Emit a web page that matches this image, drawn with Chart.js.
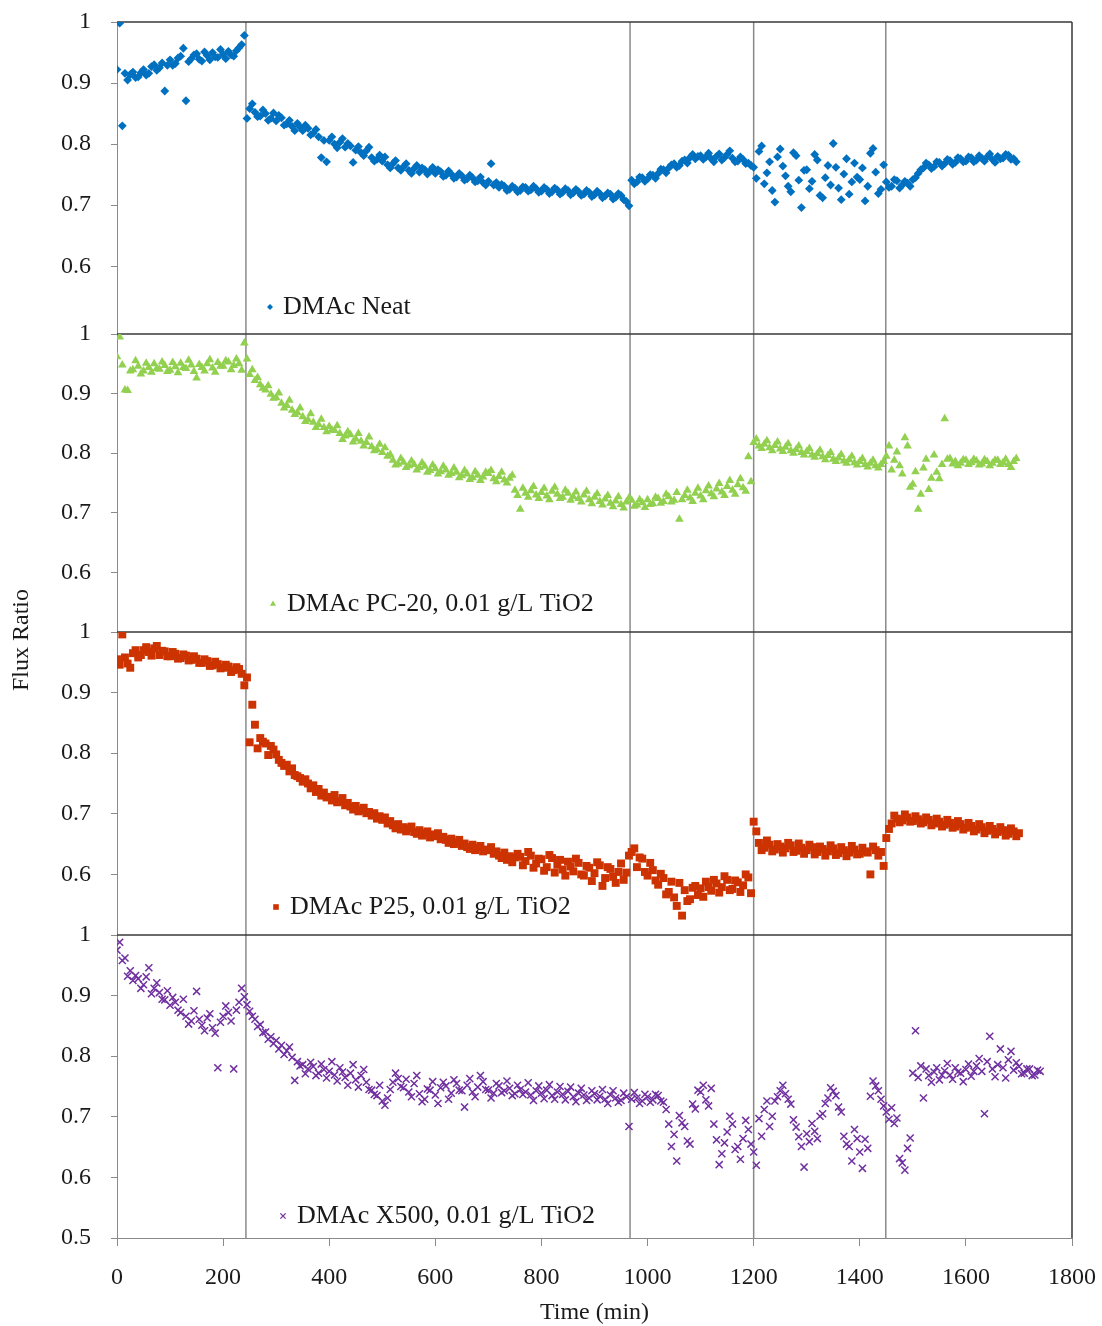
<!DOCTYPE html>
<html>
<head>
<meta charset="utf-8">
<title>Flux Ratio vs Time</title>
<script src="https://cdn.jsdelivr.net/npm/chart.js@4.4.1/dist/chart.umd.min.js"></script>
<style>
  html, body { margin: 0; padding: 0; background: #fff; }
  #fluxChart { display: block; }
</style>
</head>
<body>
<canvas id="fluxChart" width="1102" height="1326"></canvas>
<script>
// flux ratios, one reading every 5 min starting at t = 0
// (each row = 100 min)
const sampleStep = 5;

const neatFlux = [
  0.922, 0.998, 0.830, 0.916, 0.905, 0.914, 0.918, 0.909, 0.910, 0.917, 0.922, 0.913, 0.916, 0.927, 0.930, 0.921, 0.925, 0.933, 0.887, 0.929,
  0.938, 0.929, 0.932, 0.941, 0.944, 0.957, 0.871, 0.935, 0.940, 0.946, 0.948, 0.939, 0.936, 0.951, 0.945, 0.938, 0.950, 0.943, 0.942, 0.955,
  0.947, 0.940, 0.952, 0.946, 0.944, 0.953, 0.958, 0.963, 0.978, 0.842, 0.858, 0.866, 0.852, 0.845, 0.846, 0.856, 0.850, 0.839, 0.842, 0.851,
  0.838, 0.847, 0.843, 0.831, 0.833, 0.839, 0.829, 0.822, 0.834, 0.828, 0.822, 0.831, 0.826, 0.815, 0.818, 0.824, 0.812, 0.778, 0.806, 0.771,
  0.806, 0.812, 0.800, 0.794, 0.803, 0.809, 0.795, 0.801, 0.797, 0.770, 0.790, 0.796, 0.786, 0.781, 0.789, 0.795, 0.778, 0.772, 0.775, 0.782,
  0.772, 0.779, 0.766, 0.761, 0.768, 0.773, 0.761, 0.757, 0.763, 0.768, 0.757, 0.752, 0.760, 0.765, 0.754, 0.761, 0.758, 0.751, 0.756, 0.762,
  0.752, 0.758, 0.755, 0.747, 0.749, 0.756, 0.751, 0.744, 0.746, 0.752, 0.748, 0.741, 0.743, 0.749, 0.745, 0.738, 0.740, 0.746, 0.737, 0.733,
  0.739, 0.768, 0.733, 0.737, 0.729, 0.734, 0.731, 0.724, 0.726, 0.731, 0.728, 0.722, 0.724, 0.730, 0.729, 0.723, 0.725, 0.731, 0.727, 0.721,
  0.723, 0.729, 0.726, 0.719, 0.722, 0.728, 0.725, 0.718, 0.721, 0.727, 0.724, 0.717, 0.720, 0.726, 0.722, 0.716, 0.718, 0.724, 0.721, 0.714,
  0.717, 0.723, 0.719, 0.712, 0.715, 0.720, 0.718, 0.710, 0.713, 0.719, 0.716, 0.709, 0.706, 0.699, 0.741, 0.735, 0.738, 0.746, 0.745, 0.739,
  0.743, 0.750, 0.749, 0.744, 0.752, 0.759, 0.758, 0.753, 0.761, 0.766, 0.768, 0.762, 0.765, 0.772, 0.774, 0.769, 0.778, 0.783, 0.776, 0.780,
  0.781, 0.775, 0.779, 0.785, 0.776, 0.771, 0.780, 0.784, 0.774, 0.778, 0.783, 0.789, 0.777, 0.771, 0.772, 0.779, 0.775, 0.768, 0.769, 0.765,
  0.762, 0.744, 0.788, 0.797, 0.735, 0.753, 0.771, 0.724, 0.705, 0.779, 0.792, 0.764, 0.748, 0.731, 0.722, 0.786, 0.781, 0.741, 0.696, 0.757,
  0.758, 0.727, 0.739, 0.783, 0.774, 0.716, 0.712, 0.745, 0.765, 0.733, 0.801, 0.762, 0.728, 0.709, 0.751, 0.776, 0.718, 0.738, 0.769, 0.746,
  0.742, 0.761, 0.707, 0.731, 0.785, 0.793, 0.754, 0.719, 0.726, 0.766, 0.738, 0.729, 0.731, 0.742, 0.740, 0.728, 0.733, 0.739, 0.736, 0.731,
  0.742, 0.745, 0.752, 0.758, 0.761, 0.769, 0.766, 0.760, 0.763, 0.771, 0.770, 0.764, 0.768, 0.775, 0.773, 0.767, 0.770, 0.778, 0.776, 0.771,
  0.772, 0.779, 0.778, 0.771, 0.774, 0.781, 0.777, 0.772, 0.779, 0.784, 0.775, 0.770, 0.780, 0.776, 0.777, 0.783, 0.782, 0.775, 0.776, 0.771
];

const pc20Flux = [
  0.962, 0.995, 0.948, 0.906, 0.905, 0.938, 0.940, 0.955, 0.946, 0.933, 0.938, 0.951, 0.944, 0.936, 0.950, 0.942, 0.941, 0.953, 0.947, 0.937,
  0.939, 0.952, 0.945, 0.935, 0.951, 0.944, 0.942, 0.956, 0.948, 0.937, 0.926, 0.949, 0.944, 0.938, 0.950, 0.957, 0.943, 0.936, 0.952, 0.946,
  0.946, 0.955, 0.953, 0.940, 0.947, 0.958, 0.950, 0.939, 0.985, 0.958, 0.932, 0.940, 0.922, 0.927, 0.915, 0.909, 0.906, 0.913, 0.899, 0.892,
  0.893, 0.901, 0.884, 0.876, 0.880, 0.889, 0.872, 0.865, 0.868, 0.876, 0.861, 0.853, 0.856, 0.866, 0.852, 0.843, 0.848, 0.857, 0.843, 0.836,
  0.845, 0.839, 0.838, 0.846, 0.833, 0.823, 0.829, 0.836, 0.831, 0.819, 0.824, 0.833, 0.820, 0.812, 0.818, 0.827, 0.811, 0.804, 0.806, 0.815,
  0.801, 0.809, 0.795, 0.798, 0.788, 0.780, 0.782, 0.791, 0.785, 0.776, 0.779, 0.787, 0.781, 0.772, 0.776, 0.784, 0.778, 0.768, 0.771, 0.780,
  0.774, 0.765, 0.769, 0.778, 0.772, 0.763, 0.766, 0.775, 0.768, 0.759, 0.762, 0.771, 0.765, 0.756, 0.759, 0.769, 0.763, 0.754, 0.760, 0.768,
  0.766, 0.771, 0.757, 0.752, 0.761, 0.768, 0.755, 0.750, 0.758, 0.763, 0.738, 0.729, 0.706, 0.741, 0.733, 0.726, 0.737, 0.744, 0.730, 0.724,
  0.734, 0.741, 0.728, 0.722, 0.736, 0.743, 0.731, 0.724, 0.726, 0.738, 0.733, 0.721, 0.727, 0.735, 0.724, 0.718, 0.730, 0.736, 0.722, 0.715,
  0.726, 0.732, 0.719, 0.713, 0.723, 0.729, 0.716, 0.710, 0.720, 0.727, 0.714, 0.708, 0.718, 0.725, 0.721, 0.711, 0.713, 0.722, 0.717, 0.709,
  0.722, 0.714, 0.715, 0.726, 0.724, 0.716, 0.719, 0.731, 0.727, 0.718, 0.721, 0.734, 0.689, 0.722, 0.729, 0.738, 0.725, 0.719, 0.733, 0.741,
  0.728, 0.722, 0.737, 0.745, 0.732, 0.727, 0.740, 0.749, 0.735, 0.729, 0.744, 0.754, 0.738, 0.731, 0.747, 0.757, 0.742, 0.736, 0.794, 0.752,
  0.818, 0.824, 0.812, 0.808, 0.815, 0.821, 0.809, 0.804, 0.813, 0.819, 0.807, 0.803, 0.810, 0.816, 0.804, 0.800, 0.806, 0.812, 0.801, 0.797,
  0.803, 0.808, 0.797, 0.793, 0.799, 0.805, 0.794, 0.789, 0.796, 0.801, 0.790, 0.786, 0.792, 0.798, 0.787, 0.783, 0.789, 0.795, 0.784, 0.780,
  0.786, 0.791, 0.781, 0.777, 0.783, 0.788, 0.779, 0.775, 0.781, 0.786, 0.795, 0.812, 0.772, 0.788, 0.802, 0.779, 0.765, 0.826, 0.812, 0.743,
  0.748, 0.769, 0.706, 0.731, 0.775, 0.790, 0.739, 0.758, 0.797, 0.768, 0.757, 0.781, 0.858, 0.790, 0.791, 0.782, 0.786, 0.779, 0.783, 0.789,
  0.788, 0.781, 0.784, 0.790, 0.787, 0.780, 0.782, 0.789, 0.786, 0.779, 0.783, 0.788, 0.788, 0.781, 0.784, 0.790, 0.781, 0.776, 0.786, 0.791
];

const p25Flux = [
  0.955, 0.946, 0.996, 0.958, 0.948, 0.941, 0.965, 0.970, 0.958, 0.962, 0.970, 0.975, 0.967, 0.961, 0.973, 0.977, 0.962, 0.969, 0.968, 0.960,
  0.960, 0.967, 0.964, 0.956, 0.957, 0.963, 0.961, 0.953, 0.954, 0.960, 0.956, 0.949, 0.949, 0.955, 0.952, 0.944, 0.945, 0.951, 0.947, 0.940,
  0.941, 0.946, 0.943, 0.934, 0.937, 0.942, 0.939, 0.931, 0.912, 0.925, 0.818, 0.880, 0.847, 0.808, 0.825, 0.819, 0.816, 0.797, 0.812, 0.806,
  0.798, 0.789, 0.784, 0.779, 0.781, 0.770, 0.775, 0.764, 0.762, 0.759, 0.753, 0.757, 0.750, 0.742, 0.747, 0.736, 0.741, 0.730, 0.735, 0.727,
  0.728, 0.722, 0.731, 0.719, 0.721, 0.726, 0.714, 0.718, 0.712, 0.707, 0.713, 0.704, 0.706, 0.710, 0.701, 0.703, 0.697, 0.701, 0.692, 0.696,
  0.690, 0.694, 0.684, 0.688, 0.681, 0.676, 0.683, 0.674, 0.678, 0.671, 0.676, 0.679, 0.670, 0.667, 0.673, 0.664, 0.668, 0.671, 0.661, 0.666,
  0.663, 0.668, 0.658, 0.662, 0.657, 0.652, 0.659, 0.650, 0.653, 0.657, 0.647, 0.651, 0.645, 0.642, 0.649, 0.640, 0.644, 0.647, 0.638, 0.641,
  0.640, 0.645, 0.634, 0.638, 0.631, 0.627, 0.636, 0.624, 0.630, 0.620, 0.628, 0.634, 0.629, 0.615, 0.622, 0.637, 0.631, 0.611, 0.618, 0.626,
  0.625, 0.606, 0.612, 0.632, 0.627, 0.603, 0.616, 0.624, 0.608, 0.598, 0.621, 0.613, 0.605, 0.626, 0.619, 0.600, 0.598, 0.614, 0.611, 0.589,
  0.602, 0.620, 0.615, 0.581, 0.594, 0.612, 0.609, 0.596, 0.586, 0.604, 0.618, 0.591, 0.603, 0.631, 0.637, 0.643, 0.612, 0.628, 0.626, 0.604,
  0.598, 0.619, 0.607, 0.590, 0.583, 0.601, 0.594, 0.567, 0.571, 0.588, 0.562, 0.548, 0.586, 0.532, 0.574, 0.556, 0.559, 0.578, 0.581, 0.566,
  0.577, 0.563, 0.588, 0.579, 0.573, 0.591, 0.585, 0.570, 0.579, 0.597, 0.591, 0.574, 0.576, 0.590, 0.587, 0.571, 0.582, 0.600, 0.595, 0.569,
  0.687, 0.671, 0.652, 0.640, 0.644, 0.656, 0.649, 0.638, 0.641, 0.650, 0.646, 0.636, 0.643, 0.652, 0.648, 0.637, 0.639, 0.651, 0.644, 0.634,
  0.640, 0.649, 0.645, 0.633, 0.637, 0.646, 0.642, 0.631, 0.638, 0.648, 0.643, 0.632, 0.635, 0.645, 0.640, 0.630, 0.636, 0.647, 0.641, 0.633,
  0.634, 0.644, 0.638, 0.636, 0.600, 0.646, 0.640, 0.631, 0.637, 0.614, 0.660, 0.675, 0.684, 0.697, 0.692, 0.686, 0.689, 0.699, 0.694, 0.687,
  0.688, 0.696, 0.691, 0.684, 0.686, 0.694, 0.690, 0.681, 0.684, 0.692, 0.687, 0.679, 0.682, 0.690, 0.685, 0.677, 0.679, 0.688, 0.683, 0.674,
  0.677, 0.685, 0.680, 0.671, 0.674, 0.683, 0.678, 0.668, 0.672, 0.680, 0.675, 0.666, 0.670, 0.678, 0.673, 0.664, 0.667, 0.676, 0.671, 0.663,
  0.668
];

const x500Flux = [
  0.975, 0.988, 0.958, 0.962, 0.932, 0.941, 0.925, 0.933, 0.928, 0.912, 0.918, 0.931, 0.946, 0.903, 0.912, 0.921, 0.905, 0.894, 0.893, 0.908,
  0.884, 0.897, 0.889, 0.876, 0.872, 0.894, 0.866, 0.853, 0.858, 0.875, 0.907, 0.861, 0.851, 0.842, 0.863, 0.870, 0.847, 0.838, 0.781, 0.856,
  0.866, 0.883, 0.872, 0.858, 0.779, 0.876, 0.889, 0.912, 0.898, 0.885, 0.874, 0.866, 0.861, 0.849, 0.852, 0.839, 0.840, 0.828, 0.832, 0.821,
  0.826, 0.812, 0.818, 0.803, 0.809, 0.815, 0.798, 0.760, 0.791, 0.784, 0.786, 0.771, 0.779, 0.790, 0.783, 0.768, 0.772, 0.787, 0.778, 0.764,
  0.775, 0.791, 0.769, 0.759, 0.781, 0.774, 0.765, 0.752, 0.772, 0.786, 0.761, 0.749, 0.768, 0.778, 0.757, 0.745, 0.744, 0.737, 0.735, 0.752,
  0.726, 0.719, 0.731, 0.745, 0.757, 0.772, 0.763, 0.750, 0.748, 0.762, 0.741, 0.733, 0.755, 0.768, 0.738, 0.725, 0.729, 0.746, 0.744, 0.758,
  0.736, 0.722, 0.748, 0.757, 0.751, 0.729, 0.739, 0.761, 0.755, 0.744, 0.743, 0.716, 0.752, 0.763, 0.741, 0.733, 0.749, 0.768, 0.758, 0.745,
  0.744, 0.731, 0.739, 0.755, 0.751, 0.740, 0.743, 0.759, 0.747, 0.735, 0.738, 0.752, 0.745, 0.737, 0.741, 0.756, 0.736, 0.727, 0.743, 0.751,
  0.739, 0.730, 0.744, 0.753, 0.735, 0.729, 0.741, 0.750, 0.737, 0.728, 0.742, 0.749, 0.733, 0.725, 0.739, 0.747, 0.736, 0.727, 0.731, 0.743,
  0.738, 0.728, 0.734, 0.745, 0.729, 0.722, 0.736, 0.743, 0.731, 0.724, 0.727, 0.739, 0.733, 0.684, 0.729, 0.740, 0.731, 0.722, 0.726, 0.737,
  0.733, 0.724, 0.728, 0.737, 0.735, 0.726, 0.724, 0.712, 0.688, 0.651, 0.671, 0.627, 0.702, 0.690, 0.684, 0.660, 0.655, 0.721, 0.713, 0.744,
  0.741, 0.752, 0.728, 0.718, 0.747, 0.688, 0.662, 0.621, 0.639, 0.657, 0.675, 0.701, 0.688, 0.646, 0.651, 0.630, 0.664, 0.694, 0.679, 0.655,
  0.642, 0.620, 0.697, 0.668, 0.712, 0.726, 0.684, 0.701, 0.726, 0.733, 0.743, 0.752, 0.738, 0.729, 0.721, 0.695, 0.683, 0.667, 0.651, 0.617,
  0.672, 0.659, 0.689, 0.676, 0.664, 0.701, 0.705, 0.722, 0.731, 0.748, 0.742, 0.735, 0.716, 0.708, 0.668, 0.655, 0.651, 0.627, 0.679, 0.664,
  0.642, 0.615, 0.663, 0.648, 0.734, 0.759, 0.751, 0.743, 0.729, 0.718, 0.708, 0.696, 0.715, 0.689, 0.698, 0.631, 0.624, 0.612, 0.648, 0.665,
  0.772, 0.842, 0.765, 0.784, 0.731, 0.779, 0.768, 0.757, 0.774, 0.781, 0.761, 0.769, 0.776, 0.788, 0.769, 0.762, 0.781, 0.774, 0.772, 0.758,
  0.778, 0.787, 0.767, 0.775, 0.784, 0.796, 0.775, 0.705, 0.791, 0.833, 0.779, 0.766, 0.786, 0.812, 0.781, 0.764, 0.794, 0.808, 0.777, 0.789,
  0.783, 0.771, 0.772, 0.779, 0.779, 0.768, 0.769, 0.777, 0.775
];

// times (min) of the vertical marker lines
const eventTimes = [243, 967, 1200, 1449];

const timeTicks = [0, 200, 400, 600, 800, 1000, 1200, 1400, 1600, 1800];
const panelTicks = [1, 0.9, 0.8, 0.7, 0.6];
const bottomTicks = [1, 0.9, 0.8, 0.7, 0.6, 0.5];

const seriesLabels = [
  'DMAc Neat',
  'DMAc PC-20, 0.01 g/L TiO2',
  'DMAc P25, 0.01 g/L TiO2',
  'DMAc X500, 0.01 g/L TiO2'
];

const FONT = "'Liberation Serif', 'Times New Roman', serif";
const TEXT = '#1a1a1a';
const AXIS = '#8a8a8a';

function toPoints(vals) {
  return vals.map((v, i) => ({ x: i * sampleStep, y: v }));
}

// no label overflow padding, so the plot box sits exactly where layout.padding puts it
function noOverflow(s) {
  s.paddingTop = 0;
  s.paddingBottom = 0;
  s.paddingLeft = 0;
  s.paddingRight = 0;
}

function panelAxis(weight, min, ticks) {
  return {
    type: 'linear',
    position: 'left',
    stack: 'flux',
    stackWeight: weight,
    min: min,
    max: 1,
    afterBuildTicks: s => { s.ticks = ticks.map(v => ({ value: v })); },
    afterFit: s => { s.width = 117; noOverflow(s); },
    ticks: {
      font: { family: FONT, size: 24 },
      color: TEXT,
      padding: 20,
      autoSkip: false,
      callback: v => String(v)
    },
    grid: { drawOnChartArea: false, tickLength: 6, color: AXIS },
    border: { color: AXIS }
  };
}

const series = [
  { data: neatFlux, color: '#0070C0', style: 'rectRot', radius: 4.4, axis: 'y1' },
  { data: pc20Flux, color: '#92D050', style: 'triangle', radius: 5, axis: 'y2' },
  { data: p25Flux, color: '#CC3300', style: 'rect', radius: 5.6, axis: 'y3' },
  { data: x500Flux, color: '#7030A0', style: 'crossRot', radius: 5, axis: 'y4' }
];

// legend placement inside each panel: marker x, text x, offset above panel bottom
const legendSpots = [
  { mx: 270, tx: 283, dy: 27, r: 3 },
  { mx: 273, tx: 287, dy: 28, r: 3.5 },
  { mx: 276, tx: 290, dy: 28, r: 3.5 },
  { mx: 283, tx: 297, dy: 22, r: 3.5 }
];

function drawMarker(ctx, style, x, y, r, color) {
  ctx.fillStyle = color;
  ctx.strokeStyle = color;
  ctx.lineWidth = 1.3;
  ctx.beginPath();
  if (style === 'rectRot') {
    ctx.moveTo(x, y - r); ctx.lineTo(x + r, y); ctx.lineTo(x, y + r); ctx.lineTo(x - r, y);
    ctx.closePath(); ctx.fill();
  } else if (style === 'triangle') {
    ctx.moveTo(x, y - r); ctx.lineTo(x + r * 0.87, y + r * 0.5); ctx.lineTo(x - r * 0.87, y + r * 0.5);
    ctx.closePath(); ctx.fill();
  } else if (style === 'rect') {
    ctx.rect(x - r * 0.8, y - r * 0.8, r * 1.6, r * 1.6); ctx.fill();
  } else {
    const d = r * 0.75;
    ctx.moveTo(x - d, y - d); ctx.lineTo(x + d, y + d);
    ctx.moveTo(x + d, y - d); ctx.lineTo(x - d, y + d);
    ctx.stroke();
  }
}

const panelDecor = {
  id: 'panelDecor',
  beforeDatasetsDraw(chart) {
    const { ctx, chartArea: ca, scales } = chart;
    ctx.save();
    ctx.strokeStyle = AXIS;
    ctx.lineWidth = 1.5;
    eventTimes.forEach(t => {
      const px = scales.x.getPixelForValue(t);
      ctx.beginPath();
      ctx.moveTo(px, ca.top);
      ctx.lineTo(px, ca.bottom);
      ctx.stroke();
    });
    ctx.strokeStyle = '#3a3a3a';
    ctx.beginPath();
    ctx.moveTo(ca.left, ca.top); ctx.lineTo(ca.right, ca.top);
    ctx.moveTo(ca.right, ca.top); ctx.lineTo(ca.right, ca.bottom);
    ['y1', 'y2', 'y3'].forEach(id => {
      const yb = scales[id].bottom;
      ctx.moveTo(ca.left, yb); ctx.lineTo(ca.right, yb);
    });
    ctx.stroke();
    ctx.restore();
  },
  afterDraw(chart) {
    const { ctx, chartArea: ca, scales } = chart;
    ctx.save();
    ctx.font = '26px ' + FONT;
    ctx.textBaseline = 'middle';
    ctx.textAlign = 'left';
    series.forEach((s, i) => {
      const spot = legendSpots[i];
      const y = scales[s.axis].bottom - spot.dy;
      drawMarker(ctx, s.style, spot.mx, y, spot.r, s.color);
      ctx.fillStyle = TEXT;
      ctx.fillText(seriesLabels[i], spot.tx, y);
    });
    ctx.font = '24px ' + FONT;
    ctx.textAlign = 'center';
    ctx.fillText('Time (min)', (ca.left + ca.right) / 2, 1313);
    ctx.translate(22, 640);
    ctx.rotate(-Math.PI / 2);
    ctx.fillText('Flux Ratio', 0, 0);
    ctx.restore();
  }
};

new Chart(document.getElementById('fluxChart'), {
  type: 'scatter',
  data: {
    datasets: series.map((s, i) => ({
      label: seriesLabels[i],
      data: toPoints(s.data),
      yAxisID: s.axis,
      pointStyle: s.style,
      pointRadius: s.radius,
      pointBorderWidth: s.style === 'crossRot' ? 1.5 : 0,
      backgroundColor: s.color,
      borderColor: s.color,
      showLine: false
    }))
  },
  options: {
    responsive: false,
    animation: false,
    layout: { padding: { top: 22, right: 30, left: 0, bottom: 0 } },
    plugins: { legend: { display: false }, tooltip: { enabled: false } },
    scales: {
      x: {
        type: 'linear',
        min: 0,
        max: 1800,
        afterBuildTicks: s => { s.ticks = timeTicks.map(v => ({ value: v })); },
        afterFit: s => { s.height = 88; noOverflow(s); },
        ticks: {
          font: { family: FONT, size: 24 },
          color: TEXT,
          padding: 17,
          maxRotation: 0,
          autoSkip: false,
          callback: v => String(v)
        },
        grid: { drawOnChartArea: false, tickLength: 8, color: AXIS },
        border: { color: AXIS }
      },
      // the stack is laid out bottom panel first, top panel last
      y4: panelAxis(303, 0.5, bottomTicks),
      y3: panelAxis(303, 0.5, panelTicks),
      y2: panelAxis(298, 0.5, panelTicks),
      y1: panelAxis(312, 0.489, panelTicks)
    }
  },
  plugins: [panelDecor]
});
</script>
</body>
</html>
